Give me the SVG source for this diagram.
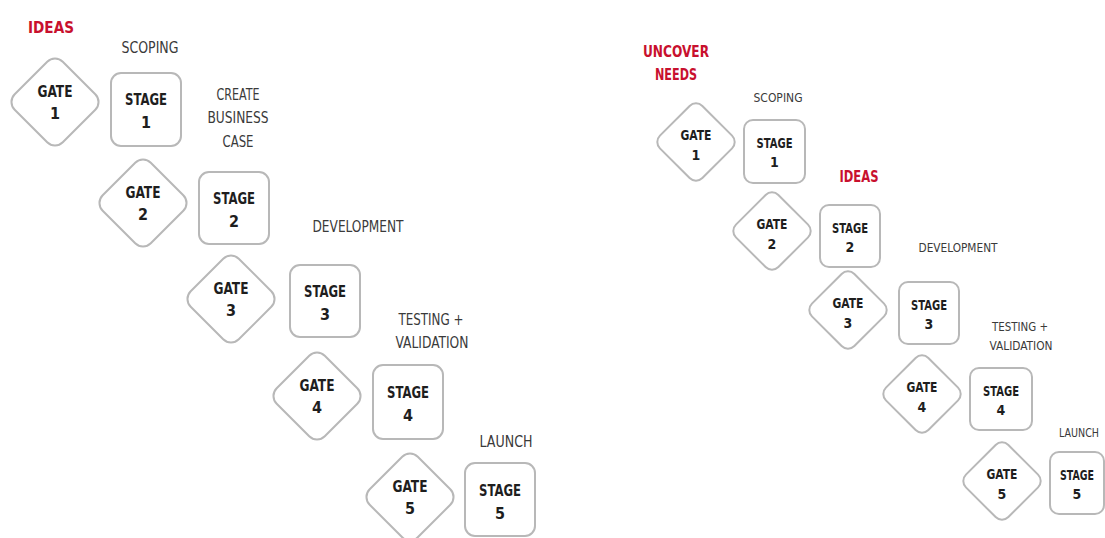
<svg xmlns="http://www.w3.org/2000/svg" width="1105" height="538" viewBox="0 0 1105 538">
  <style>
    .shape { fill: #ffffff; stroke: #b8b8b8; stroke-width: 2; }
    .key { font-family: "Liberation Sans Narrow", "DejaVu Sans Condensed", "Liberation Sans", sans-serif; font-weight: bold; fill: #1e1e1e; text-anchor: middle; }
    .lbl { font-family: "Liberation Sans Narrow", "DejaVu Sans Condensed", "Liberation Sans", sans-serif; fill: #3a3a3a; text-anchor: middle; }
    .red { font-family: "Liberation Sans Narrow", "DejaVu Sans Condensed", "Liberation Sans", sans-serif; font-weight: bold; fill: #c8102e; text-anchor: middle; }
    .big { font-size: 16px; }
    .mid { font-size: 15px; }
    .sm { font-size: 14px; }
    .xs { font-size: 13px; }
  </style>
  <rect width="1105" height="538" fill="#ffffff"/>

  <!-- Left process: gates and stages -->
  <g id="left-ideas"><text class="red big" x="51" y="33" textLength="46" lengthAdjust="spacingAndGlyphs">IDEAS</text></g>
  <g id="left-scoping"><text class="lbl mid" x="150" y="53" textLength="57" lengthAdjust="spacingAndGlyphs">SCOPING</text></g>
  <g id="left-business-case">
    <text class="lbl mid" x="238" y="100" textLength="43" lengthAdjust="spacingAndGlyphs">CREATE</text>
    <text class="lbl mid" x="238" y="123" textLength="61" lengthAdjust="spacingAndGlyphs">BUSINESS</text>
    <text class="lbl mid" x="238" y="147" textLength="31" lengthAdjust="spacingAndGlyphs">CASE</text>
  </g>
  <g id="left-development"><text class="lbl mid" x="358" y="232" textLength="91" lengthAdjust="spacingAndGlyphs">DEVELOPMENT</text></g>
  <g id="left-testing">
    <text class="lbl mid" x="431" y="325" textLength="65" lengthAdjust="spacingAndGlyphs">TESTING +</text>
    <text class="lbl mid" x="432" y="348" textLength="73" lengthAdjust="spacingAndGlyphs">VALIDATION</text>
  </g>
  <g id="left-launch"><text class="lbl mid" x="506" y="447" textLength="53" lengthAdjust="spacingAndGlyphs">LAUNCH</text></g>

  <g id="left-gate-1">
    <rect class="shape" x="21" y="68" width="68" height="68" rx="11" transform="rotate(45 55 102)"/>
    <text class="key big" x="55" y="97" textLength="35" lengthAdjust="spacingAndGlyphs">GATE</text>
    <text class="key big" x="55" y="119">1</text>
  </g>
  <g id="left-stage-1">
    <rect class="shape" x="111" y="73" width="70" height="73" rx="10"/>
    <text class="key big" x="146" y="105" textLength="42" lengthAdjust="spacingAndGlyphs">STAGE</text>
    <text class="key big" x="146" y="128">1</text>
  </g>
  <g id="left-gate-2">
    <rect class="shape" x="109" y="169" width="68" height="68" rx="11" transform="rotate(45 143 203)"/>
    <text class="key big" x="143" y="198" textLength="35" lengthAdjust="spacingAndGlyphs">GATE</text>
    <text class="key big" x="143" y="220">2</text>
  </g>
  <g id="left-stage-2">
    <rect class="shape" x="199" y="172" width="70" height="72" rx="10"/>
    <text class="key big" x="234" y="204" textLength="42" lengthAdjust="spacingAndGlyphs">STAGE</text>
    <text class="key big" x="234" y="227">2</text>
  </g>
  <g id="left-gate-3">
    <rect class="shape" x="197" y="265" width="68" height="68" rx="11" transform="rotate(45 231 299)"/>
    <text class="key big" x="231" y="294" textLength="35" lengthAdjust="spacingAndGlyphs">GATE</text>
    <text class="key big" x="231" y="316">3</text>
  </g>
  <g id="left-stage-3">
    <rect class="shape" x="290" y="265" width="70" height="72" rx="10"/>
    <text class="key big" x="325" y="297" textLength="42" lengthAdjust="spacingAndGlyphs">STAGE</text>
    <text class="key big" x="325" y="320">3</text>
  </g>
  <g id="left-gate-4">
    <rect class="shape" x="283" y="362" width="68" height="68" rx="11" transform="rotate(45 317 396)"/>
    <text class="key big" x="317" y="391" textLength="35" lengthAdjust="spacingAndGlyphs">GATE</text>
    <text class="key big" x="317" y="413">4</text>
  </g>
  <g id="left-stage-4">
    <rect class="shape" x="373" y="365" width="70" height="74" rx="10"/>
    <text class="key big" x="408" y="398" textLength="42" lengthAdjust="spacingAndGlyphs">STAGE</text>
    <text class="key big" x="408" y="421">4</text>
  </g>
  <g id="left-gate-5">
    <rect class="shape" x="376" y="463" width="68" height="68" rx="11" transform="rotate(45 410 497)"/>
    <text class="key big" x="410" y="492" textLength="35" lengthAdjust="spacingAndGlyphs">GATE</text>
    <text class="key big" x="410" y="514">5</text>
  </g>
  <g id="left-stage-5">
    <rect class="shape" x="465" y="463" width="70" height="73" rx="10"/>
    <text class="key big" x="500" y="496" textLength="42" lengthAdjust="spacingAndGlyphs">STAGE</text>
    <text class="key big" x="500" y="519">5</text>
  </g>

  <!-- Right process: gates and stages -->
  <g id="right-uncover-needs">
    <text class="red mid" x="676" y="57" textLength="66" lengthAdjust="spacingAndGlyphs">UNCOVER</text>
    <text class="red mid" x="676" y="80" textLength="42" lengthAdjust="spacingAndGlyphs">NEEDS</text>
  </g>
  <g id="right-scoping"><text class="lbl xs" x="778" y="102" textLength="49" lengthAdjust="spacingAndGlyphs">SCOPING</text></g>
  <g id="right-ideas"><text class="red mid" x="859" y="182" textLength="39" lengthAdjust="spacingAndGlyphs">IDEAS</text></g>
  <g id="right-development"><text class="lbl xs" x="958" y="252" textLength="79" lengthAdjust="spacingAndGlyphs">DEVELOPMENT</text></g>
  <g id="right-testing">
    <text class="lbl xs" x="1020" y="331" textLength="56" lengthAdjust="spacingAndGlyphs">TESTING +</text>
    <text class="lbl xs" x="1021" y="350" textLength="63" lengthAdjust="spacingAndGlyphs">VALIDATION</text>
  </g>
  <g id="right-launch"><text class="lbl xs" x="1099" y="437" style="text-anchor:end" textLength="40" lengthAdjust="spacingAndGlyphs">LAUNCH</text></g>

  <g id="right-gate-1">
    <rect class="shape" x="666" y="112" width="60" height="60" rx="9" transform="rotate(45 696 142)"/>
    <text class="key sm" x="696" y="140" textLength="31" lengthAdjust="spacingAndGlyphs">GATE</text>
    <text class="key sm" x="696" y="160">1</text>
  </g>
  <g id="right-stage-1">
    <rect class="shape" x="744" y="120" width="61" height="63" rx="9"/>
    <text class="key sm" x="774.5" y="148" textLength="36" lengthAdjust="spacingAndGlyphs">STAGE</text>
    <text class="key sm" x="774.5" y="167">1</text>
  </g>
  <g id="right-gate-2">
    <rect class="shape" x="742" y="201" width="60" height="60" rx="9" transform="rotate(45 772 231)"/>
    <text class="key sm" x="772" y="229" textLength="31" lengthAdjust="spacingAndGlyphs">GATE</text>
    <text class="key sm" x="772" y="249">2</text>
  </g>
  <g id="right-stage-2">
    <rect class="shape" x="820" y="205" width="60" height="62" rx="9"/>
    <text class="key sm" x="850" y="233" textLength="36" lengthAdjust="spacingAndGlyphs">STAGE</text>
    <text class="key sm" x="850" y="252">2</text>
  </g>
  <g id="right-gate-3">
    <rect class="shape" x="818" y="280" width="60" height="60" rx="9" transform="rotate(45 848 310)"/>
    <text class="key sm" x="848" y="308" textLength="31" lengthAdjust="spacingAndGlyphs">GATE</text>
    <text class="key sm" x="848" y="328">3</text>
  </g>
  <g id="right-stage-3">
    <rect class="shape" x="899" y="282" width="60" height="62" rx="9"/>
    <text class="key sm" x="929" y="310" textLength="36" lengthAdjust="spacingAndGlyphs">STAGE</text>
    <text class="key sm" x="929" y="329">3</text>
  </g>
  <g id="right-gate-4">
    <rect class="shape" x="892" y="364" width="60" height="60" rx="9" transform="rotate(45 922 394)"/>
    <text class="key sm" x="922" y="392" textLength="31" lengthAdjust="spacingAndGlyphs">GATE</text>
    <text class="key sm" x="922" y="412">4</text>
  </g>
  <g id="right-stage-4">
    <rect class="shape" x="970" y="368" width="62" height="62" rx="9"/>
    <text class="key sm" x="1001" y="396" textLength="36" lengthAdjust="spacingAndGlyphs">STAGE</text>
    <text class="key sm" x="1001" y="415">4</text>
  </g>
  <g id="right-gate-5">
    <rect class="shape" x="972" y="451" width="60" height="60" rx="9" transform="rotate(45 1002 481)"/>
    <text class="key sm" x="1002" y="479" textLength="31" lengthAdjust="spacingAndGlyphs">GATE</text>
    <text class="key sm" x="1002" y="499">5</text>
  </g>
  <g id="right-stage-5">
    <rect class="shape" x="1050" y="452" width="54" height="62" rx="9"/>
    <text class="key sm" x="1077" y="480" textLength="34" lengthAdjust="spacingAndGlyphs">STAGE</text>
    <text class="key sm" x="1077" y="499">5</text>
  </g>

  <!-- The process has no drawn connectors -->
  <g id="connectors"/>
</svg>
